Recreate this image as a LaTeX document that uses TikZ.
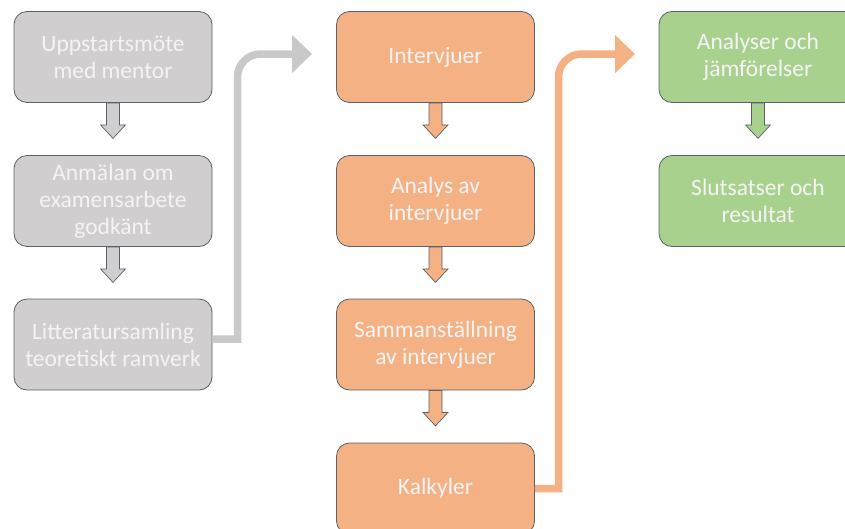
\documentclass[tikz,border=0pt]{standalone}
\usepackage{fontspec}
\setmainfont{Carlito}
\usetikzlibrary{arrows.meta,backgrounds}
\definecolor{gfill}{HTML}{D0CECE}
\definecolor{ofill}{HTML}{F4B183}
\definecolor{grfill}{HTML}{A9D18E}
\definecolor{bord}{HTML}{58606C}
\definecolor{txt}{HTML}{F4F4F4}
\definecolor{gline}{HTML}{C9C9C9}
\tikzset{
  box/.style={draw=bord, line width=0.8pt, rounded corners=13pt, minimum width=198pt, minimum height=91pt,
    inner sep=0pt, align=center, text=txt, font=\fontsize{23.5}{27}\selectfont},
  gbox/.style={box, fill=gfill},
  obox/.style={box, fill=ofill},
  grbox/.style={box, fill=grfill},
  barrow/.style={draw=bord, line width=0.7pt, line join=miter},
  conn/.style={line width=7.5pt, -{Triangle[length=20pt,width=37pt]}},
}
\begin{document}
\begin{tikzpicture}[x=1pt,y=-1pt]
\useasboundingbox (0,0) rectangle (845,528);
% nodes
\node[gbox] (g1) at (113,57) {Uppstartsmöte\\med mentor};
\node[gbox] (g2) at (113,201) {Anmälan om\\examensarbete\\godkänt};
\node[gbox] (g3) at (113,344.5) {Litteratursamling\\teoretiskt ramverk};
\node[obox] (o1) at (435.5,57) {Intervjuer};
\node[obox] (o2) at (435.5,201) {Analys av\\intervjuer};
\node[obox] (o3) at (435.5,344.5) {Sammanställning\\av intervjuer};
\node[obox] (o4) at (435.5,488.5) {Kalkyler};
\node[grbox] (r1) at (758,57) {Analyser och\\jämförelser};
\node[grbox] (r2) at (758,201) {Slutsatser och\\resultat};
% small block arrows
\begin{scope}[on background layer]
\foreach \a/\c in {g1/gfill,g2/gfill,o1/ofill,o2/ofill,o3/ofill,r1/grfill}{
  \draw[barrow, fill=\c] ([xshift=-6.5pt]\a.south) -- ++(0,22) -- ++(-6,0) -- ++(12.5,13.5)
     -- ++(12.5,-13.5) -- ++(-6,0) -- ++(0,-22) -- cycle;
}
\end{scope}
% connectors
\coordinate (gend) at (312,54);
\coordinate (oend) at (635,54);
\draw[conn, gline] ([yshift=5.5pt]g3.east) -- (237.5,339) -- (237.5,77) to[out=90,in=180] (260.5,54) -- (gend);
\draw[conn, ofill] (o4.east) -- (558.5,488.5) -- (558.5,77) to[out=90,in=180] (581.5,54) -- (oend);
\end{tikzpicture}
\end{document}
